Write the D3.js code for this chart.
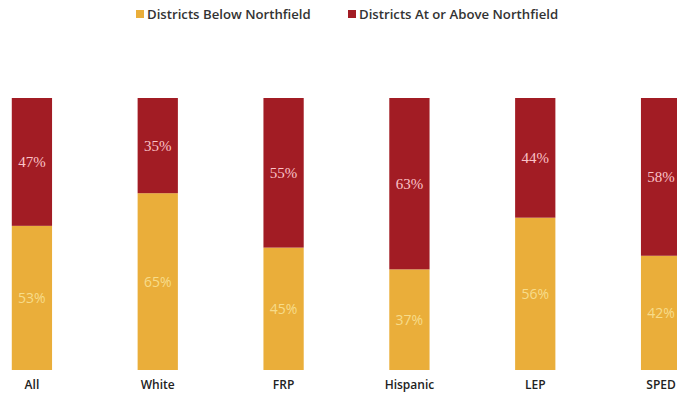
<!DOCTYPE html>
<html>
<head>
<meta charset="utf-8">
<script src="https://cdn.jsdelivr.net/npm/d3@7"></script>
<style>
  html, body { margin: 0; padding: 0; background: #fff; overflow: hidden; }
  svg { display: block; }
</style>
</head>
<body>
<svg id="chart" width="677" height="404"></svg>
<script>
// Share of districts below vs. at/above Northfield, by student group
const categories = ["All", "White", "FRP", "Hispanic", "LEP", "SPED"];
const belowValues = [53, 65, 45, 37, 56, 42];
const aboveValues = [47, 35, 55, 63, 44, 58];
const seriesNames = ["Districts Below Northfield", "Districts At or Above Northfield"];

const colors = { below: "#EAAE3A", above: "#A21C24" };

const svg = d3.select("#chart");
const plotTop = 98, plotBottom = 370;

const x = d3.scaleBand()
  .domain(categories)
  .range([-31, 724])
  .paddingInner(0.68)
  .paddingOuter(0.34);

const y = d3.scaleLinear().domain([0, 100]).range([plotBottom, plotTop]);

const rows = categories.map((c, i) => ({ cat: c, below: belowValues[i], above: aboveValues[i] }));
const layers = d3.stack().keys(["below", "above"])(rows);

const g = svg.append("g");

layers.forEach(layer => {
  g.selectAll(null)
    .data(layer)
    .enter()
    .append("rect")
    .attr("x", d => x(d.data.cat))
    .attr("width", x.bandwidth())
    .attr("y", d => y(d[1]))
    .attr("height", d => y(d[0]) - y(d[1]))
    .attr("fill", colors[layer.key]);

  g.selectAll(null)
    .data(layer)
    .enter()
    .append("text")
    .attr("x", d => x(d.data.cat) + x.bandwidth() / 2)
    .attr("y", d => (y(d[0]) + y(d[1])) / 2)
    .attr("dy", "0.35em")
    .attr("text-anchor", "middle")
    .attr("font-family", layer.key === "above" ? "'Liberation Serif', serif" : "'Open Sans', sans-serif")
    .attr("font-size", layer.key === "above" ? 15 : 14)
    .attr("fill", layer.key === "above" ? "#FAC3C8" : "#F7DC8A")
    .text(d => d.data[layer.key] + "%");
});

// Category axis
const xAxis = d3.axisBottom(x).tickSize(0).tickPadding(8);
const axisG = svg.append("g")
  .attr("transform", `translate(0,${plotBottom + 2})`)
  .call(xAxis);
axisG.select(".domain").remove();
axisG.selectAll("text")
  .attr("font-family", "'Open Sans', sans-serif")
  .attr("font-size", 12)
  .attr("font-weight", 600)
  .attr("fill", "#222");

// Legend
const legendItems = [
  { name: seriesNames[0], color: colors.below, x: 136 },
  { name: seriesNames[1], color: colors.above, x: 348 }
];
const lg = svg.append("g").attr("transform", "translate(0,14)");
legendItems.forEach(it => {
  lg.append("rect")
    .attr("x", it.x).attr("y", -4)
    .attr("width", 8).attr("height", 8)
    .attr("fill", it.color);
  lg.append("text")
    .attr("x", it.x + 11)
    .attr("y", 0)
    .attr("dy", "0.35em")
    .attr("font-family", "'Open Sans', sans-serif")
    .attr("font-size", 13.2)
    .attr("font-weight", 600)
    .attr("fill", "#333")
    .text(it.name);
});
</script>
</body>
</html>
